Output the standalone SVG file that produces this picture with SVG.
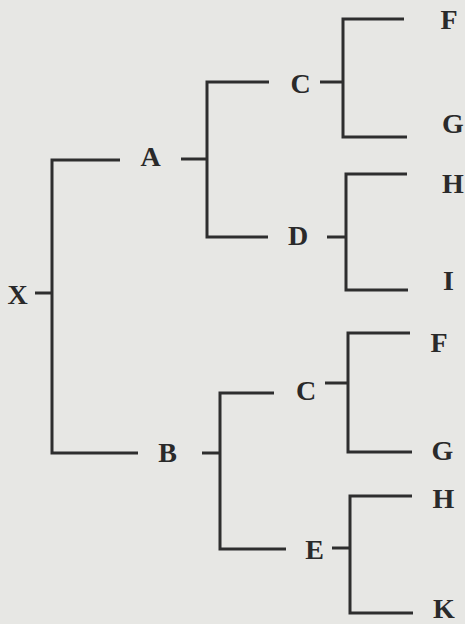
<svg xmlns="http://www.w3.org/2000/svg" width="465" height="624" viewBox="0 0 465 624">
<style>
.bg{fill:#e7e7e4}
.ln{fill:none;stroke:#2e2e2e;stroke-width:3;stroke-linejoin:miter;stroke-linecap:butt}
.lb{font-family:"Liberation Serif","Times New Roman",serif;font-weight:bold;font-size:28px;fill:#2a2a2a;text-anchor:middle}
</style>
<rect class="bg" x="0" y="0" width="465" height="624"/>
<g id="connectors">
<path class="ln" d="M35,293 H52"/>
<path class="ln" d="M120,160 H52 V453 H138"/>
<path class="ln" d="M181,159 H207"/>
<path class="ln" d="M269,82 H207 V237 H268"/>
<path class="ln" d="M320,82 H343"/>
<path class="ln" d="M404,19 H343 V137 H407"/>
<path class="ln" d="M327,237 H346"/>
<path class="ln" d="M407,174 H346 V290 H408"/>
<path class="ln" d="M202,453 H220"/>
<path class="ln" d="M274,393 H220 V549 H286"/>
<path class="ln" d="M325,383 H348"/>
<path class="ln" d="M410,333 H348 V452 H412"/>
<path class="ln" d="M332,548 H350"/>
<path class="ln" d="M412,496 H350 V613 H413"/>
</g>
<g id="node-X"><text class="lb" x="17.5" y="304">X</text></g>
<g id="node-A"><text class="lb" x="150.5" y="166">A</text></g>
<g id="node-B"><text class="lb" x="167.5" y="462">B</text></g>
<g id="node-C1"><text class="lb" x="300.5" y="93">C</text></g>
<g id="node-D"><text class="lb" x="298" y="245">D</text></g>
<g id="node-C2"><text class="lb" x="306" y="400">C</text></g>
<g id="node-E"><text class="lb" x="314.5" y="559">E</text></g>
<g id="node-F1"><text class="lb" x="449" y="29">F</text></g>
<g id="node-G1"><text class="lb" x="453" y="133">G</text></g>
<g id="node-H1"><text class="lb" x="453" y="193">H</text></g>
<g id="node-I"><text class="lb" x="448.5" y="290">I</text></g>
<g id="node-F2"><text class="lb" x="439" y="352">F</text></g>
<g id="node-G2"><text class="lb" x="442.5" y="460">G</text></g>
<g id="node-H2"><text class="lb" x="443.5" y="508">H</text></g>
<g id="node-K"><text class="lb" x="444" y="618">K</text></g>
</svg>
